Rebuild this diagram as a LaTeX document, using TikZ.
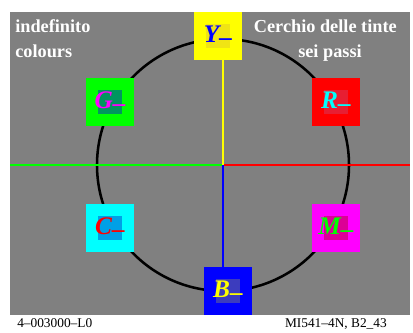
\documentclass[tikz,border=0pt]{standalone}
\usepackage{fontspec}
\setmainfont{Liberation Serif}

\definecolor{bggray}{RGB}{128,128,128}
\definecolor{yel}{RGB}{255,255,0}
\definecolor{grn}{RGB}{0,255,0}
\definecolor{rd}{RGB}{255,0,0}
\definecolor{cyn}{RGB}{0,255,255}
\definecolor{mag}{RGB}{255,0,255}
\definecolor{blu}{RGB}{0,0,255}
\definecolor{yin}{RGB}{240,228,20}
\definecolor{gin}{RGB}{0,150,95}
\definecolor{rin}{RGB}{232,30,50}
\definecolor{cin}{RGB}{0,160,230}
\definecolor{min}{RGB}{220,0,150}
\definecolor{bin}{RGB}{60,60,190}

\newcommand{\lowdash}{\raisebox{-2pt}{–}}

\begin{document}
\begin{tikzpicture}[x=0.25mm, y=-0.25mm,
    outer/.style={minimum size=12mm, inner sep=0pt},
    inner/.style={minimum size=6mm, inner sep=0pt},
    hue/.style={font=\fontsize{18}{18}\selectfont\bfseries\itshape, inner sep=0pt},
    head/.style={font=\fontsize{13}{16}\selectfont\bfseries, text=white, inner sep=0pt},
    foot/.style={font=\fontsize{9.5}{11}\selectfont, inner sep=0pt}]
    \useasboundingbox (0,0) rectangle (413,332);
    \fill[bggray] (10,12) rectangle (410,315);

    \coordinate (o) at (223,165);
    \coordinate (w) at (10,165);
    \coordinate (e) at (410,165);

    \draw[line width=1.8pt] (o) circle (31.5mm);

    % the six patches
    \node[outer, fill=yel] (Y) at (218,36) {};
    \node[inner, fill=yin] (Yi) at (Y) {};
    \node[hue, text=blu] (Yl) at (Y) {Y\lowdash};

    \node[outer, fill=grn] (G) at (110,102) {};
    \node[inner, fill=gin] (Gi) at (G) {};
    \node[hue, text=mag] (Gl) at (G) {G\lowdash};

    \node[outer, fill=rd] (R) at (336,102) {};
    \node[inner, fill=rin] (Ri) at (R) {};
    \node[hue, text=cyn] (Rl) at (R) {R\lowdash};

    \node[outer, fill=cyn] (C) at (110,228) {};
    \node[inner, fill=cin] (Ci) at (C) {};
    \node[hue, text=rd] (Cl) at (C) {C\lowdash};

    \node[outer, fill=mag] (M) at (336,228) {};
    \node[inner, fill=min] (Mi) at (M) {};
    \node[hue, text=grn] (Ml) at (M) {M\lowdash};

    \node[outer, fill=blu] (B) at (228,291) {};
    \node[inner, fill=bin] (Bi) at (B) {};
    \node[hue, text=yel] (Bl) at (B) {B\lowdash};

    % axes
    \draw[grn, line width=1.4pt] (w) -- (o);
    \draw[rd, line width=1.4pt] (o) -- (e);
    \draw[yel, line width=1.4pt] (o) -- (o |- Y.south);
    \draw[blu, line width=1.4pt] (o) -- (o |- B.north);

    \node[head, anchor=base west] (t1) at (15,33) {indefinito};
    \node[head, anchor=base west] (t2) at (15,58) {colours};
    \node[head, anchor=base east] (t3) at (397,33) {Cerchio delle tinte};
    \node[head, anchor=base] (t4) at (330,58) {sei passi};

    \node[foot, anchor=base west] (f1) at (17,327) {4–003000–L0};
    \node[foot, anchor=base east] (f2) at (387,327) {MI541–4N, B2\_43};
  \end{tikzpicture}
\end{document}
